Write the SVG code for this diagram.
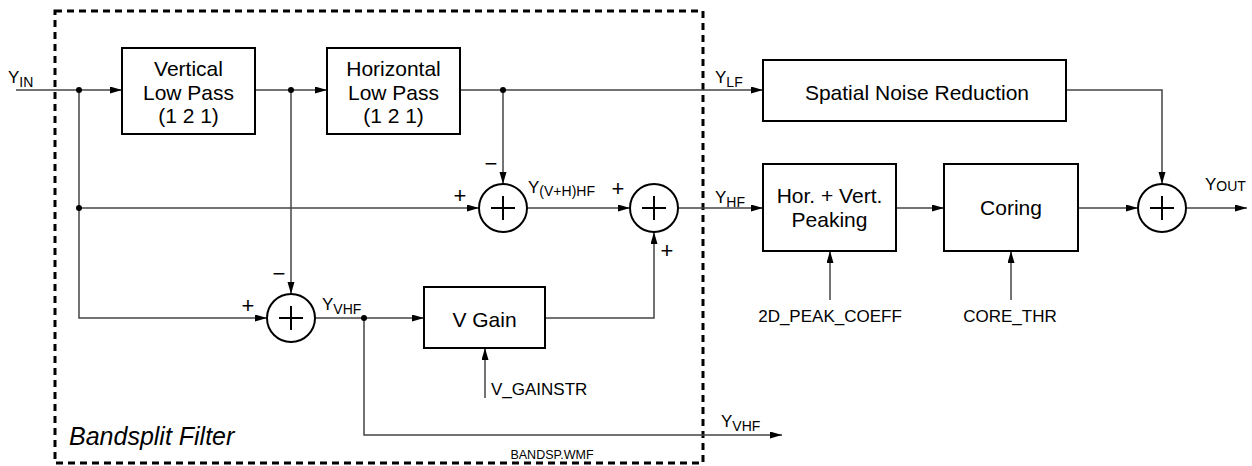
<svg xmlns="http://www.w3.org/2000/svg" width="1252" height="466" viewBox="0 0 1252 466">
<style>
text{font-family:"Liberation Sans",Arial,sans-serif;fill:#000}
.box{fill:#fff;stroke:#000;stroke-width:2}
.bt{font-size:21px;text-anchor:middle}
.lbl{font-size:17px}
.sub{font-size:14px}
.sgn{font-size:22px;text-anchor:middle}
.ctl{font-size:17px;text-anchor:middle}
.sum circle{fill:#fff;stroke:#000;stroke-width:2}
.sum path{stroke:#000;stroke-width:2;fill:none}
#connectors path{fill:none;stroke:#444;stroke-width:1.5}
.dot{fill:#000}
</style>
<defs>
<marker id="ar" markerUnits="userSpaceOnUse" markerWidth="13" markerHeight="8" refX="12" refY="3.5" orient="auto">
<path d="M0,0 L12,3.5 L0,7 Z" fill="#000"/>
</marker>
</defs>
<g id="bandsplit">
<rect x="55" y="11" width="648" height="452" fill="none" stroke="#000" stroke-width="3" stroke-dasharray="7 5"/>
<text x="69" y="445" font-size="25" font-style="italic">Bandsplit Filter</text>
<text x="552" y="459" font-size="12.5" text-anchor="middle">BANDSP.WMF</text>
</g>
<g id="connectors">
<path d="M16,90 H122" marker-end="url(#ar)"/>
<path d="M255,90 H327" marker-end="url(#ar)"/>
<path d="M460,90 H763" marker-end="url(#ar)"/>
<path d="M503,90 V184" marker-end="url(#ar)"/>
<path d="M79,90 V318 H267" marker-end="url(#ar)"/>
<path d="M79,208 H479" marker-end="url(#ar)"/>
<path d="M527,208 H630" marker-end="url(#ar)"/>
<path d="M678,208 H763" marker-end="url(#ar)"/>
<path d="M291,90 V294" marker-end="url(#ar)"/>
<path d="M315,318 H424" marker-end="url(#ar)"/>
<path d="M545,318 H654 V232" marker-end="url(#ar)"/>
<path d="M485,398 V348" marker-end="url(#ar)"/>
<path d="M364,318 V435 H782" marker-end="url(#ar)"/>
<path d="M896,208 H944" marker-end="url(#ar)"/>
<path d="M1078,208 H1138" marker-end="url(#ar)"/>
<path d="M1066,90 H1162 V184" marker-end="url(#ar)"/>
<path d="M1186,208 H1247" marker-end="url(#ar)"/>
<path d="M830,300 V251" marker-end="url(#ar)"/>
<path d="M1011,300 V251" marker-end="url(#ar)"/>
</g>
<g id="dots">
<circle class="dot" cx="79" cy="90" r="3"/>
<circle class="dot" cx="291" cy="90" r="3"/>
<circle class="dot" cx="503" cy="90" r="3"/>
<circle class="dot" cx="79" cy="208" r="3"/>
<circle class="dot" cx="364" cy="318" r="3"/>
</g>
<g id="vlp">
<rect class="box" x="122" y="48" width="133" height="86"/>
<text class="bt" x="188.5" y="76">Vertical</text>
<text class="bt" x="188.5" y="99.5">Low Pass</text>
<text class="bt" x="188.5" y="123">(1 2 1)</text>
</g>
<g id="hlp">
<rect class="box" x="327" y="48" width="133" height="86"/>
<text class="bt" x="393.5" y="76">Horizontal</text>
<text class="bt" x="393.5" y="99.5">Low Pass</text>
<text class="bt" x="393.5" y="123">(1 2 1)</text>
</g>
<g id="snr">
<rect class="box" x="763" y="60" width="303" height="61"/>
<text class="bt" x="917" y="100" font-size="21.5">Spatial Noise Reduction</text>
</g>
<g id="peak">
<rect class="box" x="763" y="164" width="133" height="87"/>
<text class="bt" x="829.5" y="203">Hor. + Vert.</text>
<text class="bt" x="829.5" y="226.5">Peaking</text>
</g>
<g id="coring">
<rect class="box" x="944" y="164" width="134" height="87"/>
<text class="bt" x="1011" y="215">Coring</text>
</g>
<g id="vgain">
<rect class="box" x="424" y="287" width="121" height="61"/>
<text class="bt" x="484.5" y="327">V Gain</text>
</g>
<g id="sum1" class="sum">
<circle cx="503" cy="208" r="24"/>
<path d="M491,208 H515 M503,196 V220"/>
</g>
<g id="sum2" class="sum">
<circle cx="654" cy="208" r="24"/>
<path d="M642,208 H666 M654,196 V220"/>
</g>
<g id="sum3" class="sum">
<circle cx="1162" cy="208" r="24"/>
<path d="M1150,208 H1174 M1162,196 V220"/>
</g>
<g id="sum4" class="sum">
<circle cx="291" cy="318" r="24"/>
<path d="M279,318 H303 M291,306 V330"/>
</g>
<g id="labels">
<text class="lbl" x="8" y="83">Y<tspan class="sub" dy="4">IN</tspan></text>
<text class="lbl" x="715" y="82.5">Y<tspan class="sub" dy="4">LF</tspan></text>
<text class="lbl" x="715" y="203">Y<tspan class="sub" dy="4">HF</tspan></text>
<text class="lbl" x="528" y="193">Y<tspan class="sub" dy="3">(V+H)HF</tspan></text>
<text class="lbl" x="322" y="310">Y<tspan class="sub" dy="4">VHF</tspan></text>
<text class="lbl" x="721" y="427">Y<tspan class="sub" dy="4">VHF</tspan></text>
<text class="lbl" x="1205" y="190">Y<tspan class="sub" dy="1">OUT</tspan></text>
<text class="sgn" x="460" y="203">+</text>
<text class="sgn" x="491" y="171">−</text>
<text class="sgn" x="618" y="196">+</text>
<text class="sgn" x="667" y="258">+</text>
<text class="sgn" x="248" y="313">+</text>
<text class="sgn" x="279" y="281">−</text>
<text class="lbl" x="491" y="395">V_GAINSTR</text>
<text class="ctl" x="830" y="322">2D_PEAK_COEFF</text>
<text class="ctl" x="1010" y="322">CORE_THR</text>
</g>
</svg>
